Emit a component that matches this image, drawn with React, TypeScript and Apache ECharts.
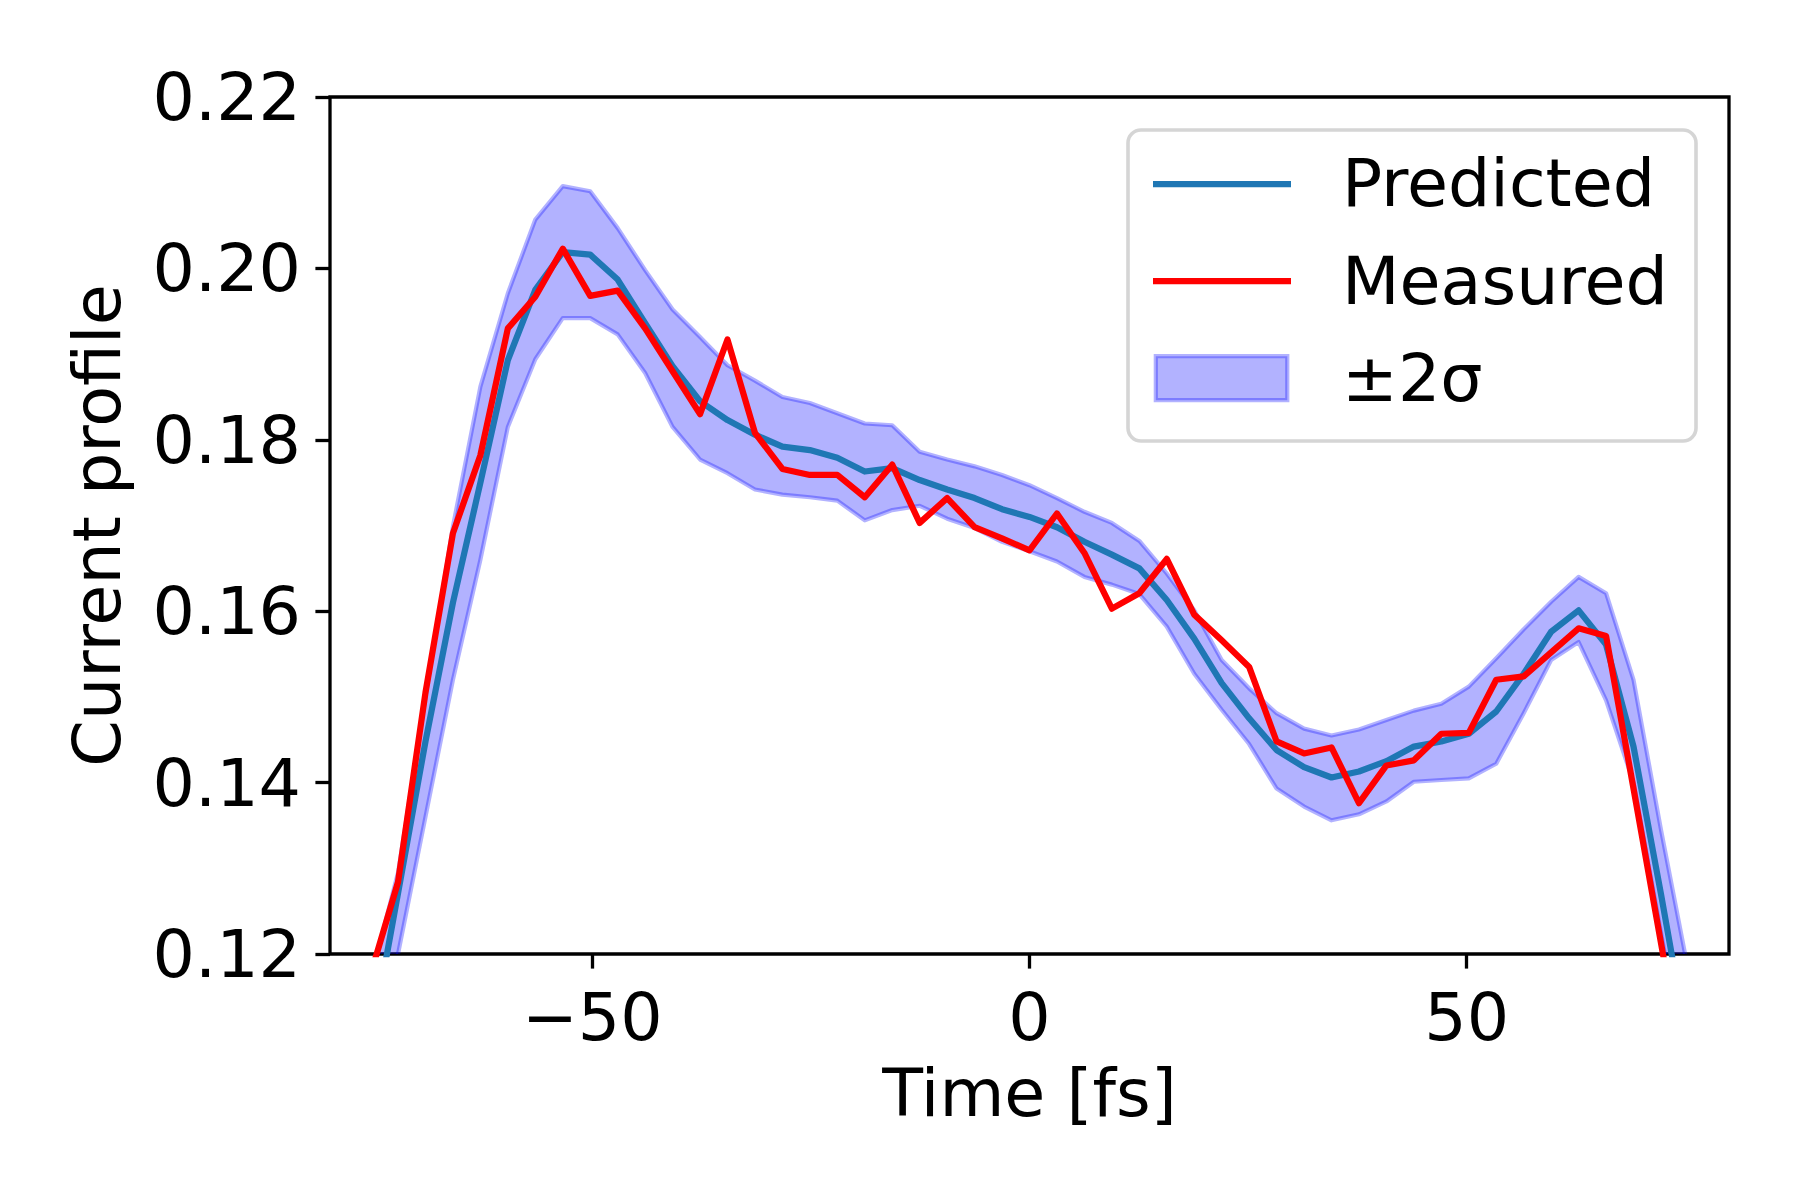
import React, { useEffect, useRef } from "react";
import * as echarts from "echarts";

const TIME = [
  -75.36, -72.22, -69.08, -65.94, -62.8, -59.66, -56.52, -53.38, -50.24, -47.1,
  -43.96, -40.82, -37.68, -34.54, -31.4, -28.26, -25.12, -21.98, -18.84, -15.7,
  -12.56, -9.42, -6.28, -3.14, 0, 3.14, 6.28, 9.42, 12.56, 15.7,
  18.84, 21.98, 25.12, 28.26, 31.4, 34.54, 37.68, 40.82, 43.96, 47.1,
  50.24, 53.38, 56.52, 59.66, 62.8, 65.94, 69.08, 72.22, 75.36,
];

const PREDICTED = [
  0.1095, 0.1271, 0.1448, 0.161, 0.175, 0.1893, 0.1975, 0.2019, 0.2016, 0.1987,
  0.1936, 0.1886, 0.1845, 0.1823, 0.1806, 0.1792, 0.1788, 0.1779, 0.1763, 0.1767,
  0.1753, 0.1742, 0.1732, 0.1719, 0.171, 0.1698, 0.1681, 0.1666, 0.165, 0.1613,
  0.1568, 0.1516, 0.1475, 0.1438, 0.1418, 0.1406, 0.1413, 0.1425, 0.1442, 0.1448,
  0.1457, 0.1483, 0.1527, 0.1576, 0.1601, 0.1561, 0.1442, 0.127, 0.109,
];

const MEASURED = [
  0.1176, 0.1284, 0.1505, 0.1691, 0.1782, 0.193, 0.1967, 0.2023, 0.1968, 0.1974,
  0.193, 0.188, 0.183, 0.1917, 0.1808, 0.1766, 0.1759, 0.1759, 0.1733, 0.1771,
  0.1703, 0.1732, 0.1698, 0.1685, 0.1671, 0.1714, 0.1668, 0.1603, 0.1621, 0.1661,
  0.1596, 0.1566, 0.1535, 0.1448, 0.1434, 0.1441, 0.1376, 0.142, 0.1426, 0.1457,
  0.1458, 0.152, 0.1524, 0.1552, 0.158, 0.1571, 0.1393, 0.1213, 0.1033,
];

const LOWER = [
  0.103, 0.12, 0.136, 0.152, 0.166, 0.1815, 0.1894, 0.1942, 0.1942, 0.1923,
  0.1878, 0.1815, 0.1777, 0.1761, 0.1742, 0.1736, 0.1733, 0.1729, 0.1706, 0.1718,
  0.1723, 0.1708, 0.1697, 0.1681, 0.167, 0.1658, 0.164, 0.1631, 0.162, 0.1582,
  0.1527, 0.1485, 0.1445, 0.1393, 0.1372, 0.1356, 0.1363, 0.1378, 0.1401, 0.1403,
  0.1405, 0.1422, 0.1481, 0.1543, 0.1564, 0.1496, 0.14, 0.1225, 0.105,
];

const UPPER = [
  0.117, 0.1295, 0.15, 0.1699, 0.1862, 0.1971, 0.2057, 0.2096, 0.209, 0.2047,
  0.1998, 0.1952, 0.192, 0.1887, 0.1869, 0.185, 0.1843, 0.1831, 0.1819, 0.1817,
  0.1786, 0.1777, 0.1769, 0.1759, 0.1747, 0.1732, 0.1716, 0.1703, 0.1682, 0.1644,
  0.1601, 0.1543, 0.151, 0.1481, 0.1463, 0.1455, 0.1462, 0.1473, 0.1484, 0.1492,
  0.1512, 0.1545, 0.1579, 0.1611, 0.164, 0.1621, 0.152, 0.1345, 0.118,
];

const X_TICKS = [-50, 0, 50];
const SERIES_NAMES = ["Predicted", "Measured", "±2σ"];
const X_LABEL = "Time [fs]";
const Y_LABEL = "Current profile";

const FONT = "DejaVu Sans";
const FS = 66.7;
const BLUE = "#1f77b4";
const RED = "#ff0000";
const BAND = "rgba(0,0,255,0.3)";

export default function App() {
  const ref = useRef<HTMLDivElement>(null);

  useEffect(() => {
    if (!ref.current) return;
    const chart = echarts.init(ref.current, null, { renderer: "svg" });

    const fmtX = (v: number) => (v < 0 ? "\u2212" + Math.abs(v) : String(v));

    const legendText = (text: string, y: number) => ({
      type: "text",
      z: 102,
      x: 1342,
      y,
      style: {
        text,
        fontFamily: FONT,
        fontSize: FS,
        fill: "#000",
        verticalAlign: "middle",
        align: "left",
      },
    });

    const option: any = {
      animation: false,
      backgroundColor: "#ffffff",
      grid: {
        left: 330,
        right: 71,
        top: 97,
        bottom: 246,
        show: true,
        borderColor: "#000000",
        borderWidth: 3.3,
        backgroundColor: "transparent",
        containLabel: false,
      },
      xAxis: {
        type: "value",
        min: -80,
        max: 80,
        name: X_LABEL,
        nameLocation: "middle",
        nameGap: 105,
        nameTextStyle: { fontFamily: FONT, fontSize: FS, color: "#000" },
        axisLine: { show: false, onZero: false },
        axisTick: {
          show: true,
          customValues: X_TICKS,
          length: 14.6,
          lineStyle: { color: "#000", width: 3.3 },
        },
        axisLabel: {
          customValues: X_TICKS,
          margin: 29,
          fontFamily: FONT,
          fontSize: FS,
          color: "#000",
          formatter: fmtX,
        },
        splitLine: { show: false },
      },
      yAxis: {
        type: "value",
        min: 0.12,
        max: 0.22,
        interval: 0.02,
        name: Y_LABEL,
        nameLocation: "middle",
        nameRotate: 90,
        nameGap: 200,
        nameTextStyle: { fontFamily: FONT, fontSize: FS, color: "#000" },
        axisLine: { show: false, onZero: false },
        axisTick: {
          show: true,
          length: 14.6,
          lineStyle: { color: "#000", width: 3.3 },
        },
        axisLabel: {
          margin: 29,
          fontFamily: FONT,
          fontSize: FS,
          color: "#000",
          formatter: (v: number) => v.toFixed(2),
        },
        splitLine: { show: false },
      },
      series: [
        {
          name: SERIES_NAMES[2],
          type: "custom",
          z: 1,
          data: TIME.map((t, i) => [t, LOWER[i], UPPER[i]]),
          encode: { x: 0, y: [1, 2] },
          renderItem: (params: any, api: any) => {
            if (params.dataIndex !== 0) return null;
            const pts: number[][] = [];
            for (let i = 0; i < TIME.length; i++) pts.push(api.coord([TIME[i], UPPER[i]]));
            for (let i = TIME.length - 1; i >= 0; i--) pts.push(api.coord([TIME[i], LOWER[i]]));
            const cs = params.coordSys;
            return {
              type: "group",
              clipPath: {
                type: "rect",
                shape: { x: cs.x, y: cs.y, width: cs.width, height: cs.height },
              },
              children: [
                {
                  type: "polygon",
                  shape: { points: pts },
                  style: { fill: BAND, stroke: BAND, lineWidth: 4.2, lineJoin: "round" },
                },
              ],
            };
          },
        },
        {
          name: SERIES_NAMES[0],
          type: "line",
          z: 3,
          data: TIME.map((t, i) => [t, PREDICTED[i]]),
          symbol: "none",
          clip: true,
          lineStyle: { color: BLUE, width: 6.25, join: "round", cap: "butt" },
          itemStyle: { color: BLUE },
        },
        {
          name: SERIES_NAMES[1],
          type: "line",
          z: 4,
          data: TIME.map((t, i) => [t, MEASURED[i]]),
          symbol: "none",
          clip: true,
          lineStyle: { color: RED, width: 6.25, join: "round", cap: "butt" },
          itemStyle: { color: RED },
        },
      ],
      graphic: [
        {
          type: "rect",
          z: 100,
          shape: { x: 1128, y: 130, width: 568, height: 311, r: 13 },
          style: { fill: "rgba(255,255,255,0.8)", stroke: "#d5d5d5", lineWidth: 3.6 },
        },
        {
          type: "line",
          z: 101,
          shape: { x1: 1153, y1: 184, x2: 1291, y2: 184 },
          style: { stroke: BLUE, lineWidth: 6.25 },
        },
        {
          type: "line",
          z: 101,
          shape: { x1: 1153, y1: 281, x2: 1291, y2: 281 },
          style: { stroke: RED, lineWidth: 6.25 },
        },
        {
          type: "rect",
          z: 101,
          shape: { x: 1155.8, y: 356.2, width: 131.5, height: 44 },
          style: { fill: BAND, stroke: BAND, lineWidth: 4.2 },
        },
        legendText(SERIES_NAMES[0], 183),
        legendText(SERIES_NAMES[1], 281),
        legendText(SERIES_NAMES[2], 378),
      ],
    };

    chart.setOption(option);
    return () => chart.dispose();
  }, []);

  return (
    <div
      ref={ref}
      style={{ position: "absolute", left: 0, top: 0, width: 1800, height: 1200 }}
    />
  );
}
